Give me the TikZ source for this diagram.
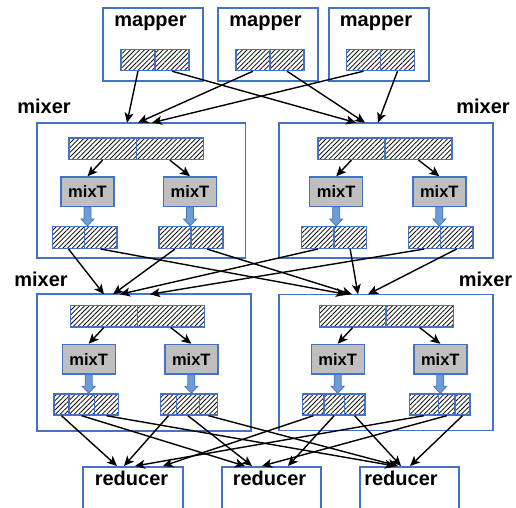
\documentclass[tikz,border=0pt]{standalone}
\usepackage{fontspec}
\setmainfont{Liberation Sans}
\usetikzlibrary{arrows.meta,patterns.meta,calc}
\definecolor{bblue}{HTML}{4472C4}
\definecolor{gfill}{HTML}{BFBFBF}
\definecolor{afill}{HTML}{6E9DD6}
\newcommand{\fatarr}[2]{%
  \coordinate (#1tip) at (#1.south |- #2.north);
  \filldraw[fatarrow] ($(#1.south)+(-3.5,0)$) -- ($(#1.south)+(3.5,0)$)
    -- ($(#1tip)+(3.5,-7)$) -- ($(#1tip)+(6.5,-7)$) -- (#1tip)
    -- ($(#1tip)+(-6.5,-7)$) -- ($(#1tip)+(-3.5,-7)$) -- cycle;}
\begin{document}
\begin{tikzpicture}[x=1pt,y=-1pt,
  box/.style={draw=bblue,line width=1.8pt,inner sep=0pt,rectangle},
  cellbox/.style={draw=bblue,line width=1.4pt,inner sep=0pt,rectangle,
    pattern={Lines[angle=45,distance=3.3pt,line width=0.75pt]},pattern color=black,
    minimum height=21pt},
  mixt/.style={draw=bblue,fill=gfill,line width=1.4pt,inner sep=0pt,
    minimum width=53pt,minimum height=29.7pt,
    font=\bfseries\fontsize{16.5}{18}\selectfont},
  lbl/.style={anchor=base,inner sep=0pt,font=\bfseries\fontsize{20}{24}\selectfont},
  arr/.style={line width=1.4pt,-{Stealth[length=10pt,width=9pt,inset=2.5pt]}},
  fatarrow/.style={fill=afill,draw=bblue,line width=0.7pt,line join=miter}
]
\useasboundingbox (0,0) rectangle (516,507);
\clip (0,0) rectangle (516,507);

% mappers
\node[box,minimum width=100pt,minimum height=73pt] (mp1) at (153,44.5) {};
\node[box,minimum width=100pt,minimum height=73pt] (mp2) at (268,44.5) {};
\node[box,minimum width=100pt,minimum height=73pt] (mp3) at (378.6,44.5) {};
\node[lbl] (mp1t) at (150.5,26.5) {mapper};
\node[lbl] (mp2t) at (265.5,26.5) {mapper};
\node[lbl] (mp3t) at (376,26.5) {mapper};
\node[cellbox,minimum width=34pt] (mp1a) at (138,60) {};
\node[cellbox,minimum width=34pt] (mp1b) at (172,60) {};
\node[cellbox,minimum width=34pt] (mp2a) at (253,60) {};
\node[cellbox,minimum width=34pt] (mp2b) at (287,60) {};
\node[cellbox,minimum width=34pt] (mp3a) at (363.5,60) {};
\node[cellbox,minimum width=34pt] (mp3b) at (397.5,60) {};

% mixers
\node[box,minimum width=208.8pt,minimum height=135.6pt] (mxTL) at (141.1,190.5) {};
\node[box,minimum width=214.3pt,minimum height=135.6pt] (mxTR) at (385.85,190.5) {};
\node[box,minimum width=214pt,minimum height=136.7pt] (mxBL) at (143.7,362.65) {};
\node[box,minimum width=214.3pt,minimum height=136pt] (mxBR) at (385.85,362.4) {};
\node[lbl] (mxTLt) at (44,113) {mixer};
\node[lbl] (mxTRt) at (483,113) {mixer};
\node[lbl] (mxBLt) at (41,286) {mixer};
\node[lbl] (mxBRt) at (485.5,286) {mixer};

% input bars
\node[cellbox,minimum width=67.3pt,minimum height=21.3pt] (inTLa) at (102.65,148.7) {};
\node[cellbox,minimum width=67pt,minimum height=21.3pt] (inTLb) at (169.8,148.7) {};
\node[cellbox,minimum width=67pt,minimum height=21.3pt] (inTRa) at (351.5,148.7) {};
\node[cellbox,minimum width=67pt,minimum height=21.3pt] (inTRb) at (418.5,148.7) {};
\node[cellbox,minimum width=67pt,minimum height=21.3pt] (inBLa) at (103.8,316.2) {};
\node[cellbox,minimum width=67pt,minimum height=21.3pt] (inBLb) at (170.8,316.2) {};
\node[cellbox,minimum width=66.7pt,minimum height=21.3pt] (inBRa) at (352.65,316.2) {};
\node[cellbox,minimum width=67.3pt,minimum height=21.3pt] (inBRb) at (419.65,316.2) {};

% mixT boxes
\node[mixt] (tTLa) at (87.5,191.8) {mixT};
\node[mixt] (tTLb) at (190,191.8) {mixT};
\node[mixt] (tTRa) at (336.2,191.8) {mixT};
\node[mixt] (tTRb) at (439.3,191.8) {mixT};
\node[mixt] (tBLa) at (88.7,359.3) {mixT};
\node[mixt] (tBLb) at (191.3,359.3) {mixT};
\node[mixt] (tBRa) at (337.7,359.3) {mixT};
\node[mixt] (tBRb) at (440.3,359.3) {mixT};

% output cells, top mixers
\node[cellbox,minimum width=31.6pt,minimum height=21.6pt] (oTLa1) at (68.5,237.5) {};
\node[cellbox,minimum width=32.7pt,minimum height=21.6pt] (oTLa2) at (100.65,237.5) {};
\node[cellbox,minimum width=32pt,minimum height=21.6pt] (oTLb1) at (175,237.5) {};
\node[cellbox,minimum width=32pt,minimum height=21.6pt] (oTLb2) at (207,237.5) {};
\node[cellbox,minimum width=32.3pt,minimum height=21.6pt] (oTRa1) at (317.85,237.5) {};
\node[cellbox,minimum width=32.3pt,minimum height=21.6pt] (oTRa2) at (350.15,237.5) {};
\node[cellbox,minimum width=32pt,minimum height=21.6pt] (oTRb1) at (424.3,237.5) {};
\node[cellbox,minimum width=32.7pt,minimum height=21.6pt] (oTRb2) at (456.65,237.5) {};

% output cells, bottom mixers
\node[cellbox,minimum width=15pt] (oBLa1) at (61.5,404.5) {};
\node[cellbox,minimum width=25.3pt] (oBLa2) at (81.65,404.5) {};
\node[cellbox,minimum width=24.4pt] (oBLa3) at (106.5,404.5) {};
\node[cellbox,minimum width=16.4pt] (oBLb1) at (168.5,404.5) {};
\node[cellbox,minimum width=22.6pt] (oBLb2) at (188,404.5) {};
\node[cellbox,minimum width=18.4pt] (oBLb3) at (208.5,404.5) {};
\node[cellbox,minimum width=21.3pt] (oBRa1) at (313.35,404.5) {};
\node[cellbox,minimum width=20.3pt] (oBRa2) at (334.15,404.5) {};
\node[cellbox,minimum width=20.7pt] (oBRa3) at (354.65,404.5) {};
\node[cellbox,minimum width=29pt] (oBRb1) at (423.8,404.5) {};
\node[cellbox,minimum width=16.7pt] (oBRb2) at (446.65,404.5) {};
\node[cellbox,minimum width=15pt] (oBRb3) at (462.5,404.5) {};

% reducers
\node[box,minimum width=100pt,minimum height=80pt,anchor=north] (r1) at (133.3,466) {};
\node[box,minimum width=98.7pt,minimum height=80pt,anchor=north] (r2) at (271.65,466) {};
\node[box,minimum width=99pt,minimum height=80pt,anchor=north] (r3) at (409.2,466) {};
\node[lbl] (r1t) at (131.5,485) {reducer};
\node[lbl] (r2t) at (269.5,485) {reducer};
\node[lbl] (r3t) at (401,485) {reducer};

% fat arrows
\fatarr{tTLa}{oTLa1}
\fatarr{tTLb}{oTLb1}
\fatarr{tTRa}{oTRa1}
\fatarr{tTRb}{oTRb1}
\fatarr{tBLa}{oBLa1}
\fatarr{tBLb}{oBLb1}
\fatarr{tBRa}{oBRa1}
\fatarr{tBRb}{oBRb1}

% inner arrows
\draw[arr] (inTLa.south) -- (tTLa.north);
\draw[arr] (inTLb.south) -- (tTLb.north);
\draw[arr] (inTRa.south) -- (tTRa.north);
\draw[arr] (inTRb.south) -- (tTRb.north);
\draw[arr] (inBLa.south) -- (tBLa.north);
\draw[arr] (inBLb.south) -- (tBLb.north);
\draw[arr] (inBRa.south) -- (tBRa.north);
\draw[arr] (inBRb.south) -- (tBRb.north);

% mapper -> top mixers
\coordinate (eTL1) at (127,122.7);
\coordinate (eTL2) at (138,122.7);
\coordinate (eTL3) at (152,122.7);
\coordinate (eTR1) at (356,122.7);
\coordinate (eTR2) at (365,122.7);
\coordinate (eTR3) at (378,122.7);
\draw[arr] (mp1a.south) -- (eTL1);
\draw[arr] (mp2a.south) -- (eTL2);
\draw[arr] (mp3a.south) -- (eTL3);
\draw[arr] (mp1b.south) -- (eTR1);
\draw[arr] (mp2b.south) -- (eTR2);
\draw[arr] (mp3b.south) -- (eTR3);

% top mixers -> bottom mixers
\coordinate (fBL1) at (104,294.3);
\coordinate (fBL2) at (113,294.3);
\coordinate (fBL3) at (120,294.3);
\coordinate (fBL4) at (150,294.3);
\coordinate (fBR1) at (346,294.3);
\coordinate (fBR2) at (352,294.3);
\coordinate (fBR3) at (358,294.3);
\coordinate (fBR4) at (368,294.3);
\draw[arr] (oTLa1.south) -- (fBL1);
\draw[arr] (oTLb1.south) -- (fBL2);
\draw[arr] (oTRa1.south) -- (fBL3);
\draw[arr] (oTRb1.south) -- (fBL4);
\draw[arr] (oTLa2.south) -- (fBR1);
\draw[arr] (oTLb2.south) -- (fBR2);
\draw[arr] (oTRa2.south) -- (fBR3);
\draw[arr] (oTRb2.south) -- (fBR4);

% bottom mixers -> reducers
\coordinate (gR1a) at (117,466);
\coordinate (gR1b) at (124,466);
\coordinate (gR1c) at (135,466);
\coordinate (gR1d) at (163,466);
\coordinate (gR2a) at (245,466);
\coordinate (gR2b) at (252,466);
\coordinate (gR2c) at (262,466);
\coordinate (gR2d) at (288,466);
\coordinate (gR3a) at (395,466);
\coordinate (gR3b) at (398,466);
\coordinate (gR3c) at (401,466);
\coordinate (gR3d) at (410,466);
\draw[arr] (oBLa1.south) -- (gR1a);
\draw[arr] (oBLb1.south) -- (gR1b);
\draw[arr] (oBRb1.south) -- (gR1c);
\draw[arr] (oBRa1.south) -- (gR1d);
\draw[arr] (oBLa2.south) -- (gR2a);
\draw[arr] (oBLb2.south) -- (gR2b);
\draw[arr] (oBRb2.south) -- (gR2c);
\draw[arr] (oBRa2.south) -- (gR2d);
\draw[arr] (oBLa3.south) -- (gR3a);
\draw[arr] (oBLb3.south) -- (gR3b);
\draw[arr] (oBRa3.south) -- (gR3c);
\draw[arr] (oBRb3.south) -- (gR3d);
\end{tikzpicture}
\end{document}
